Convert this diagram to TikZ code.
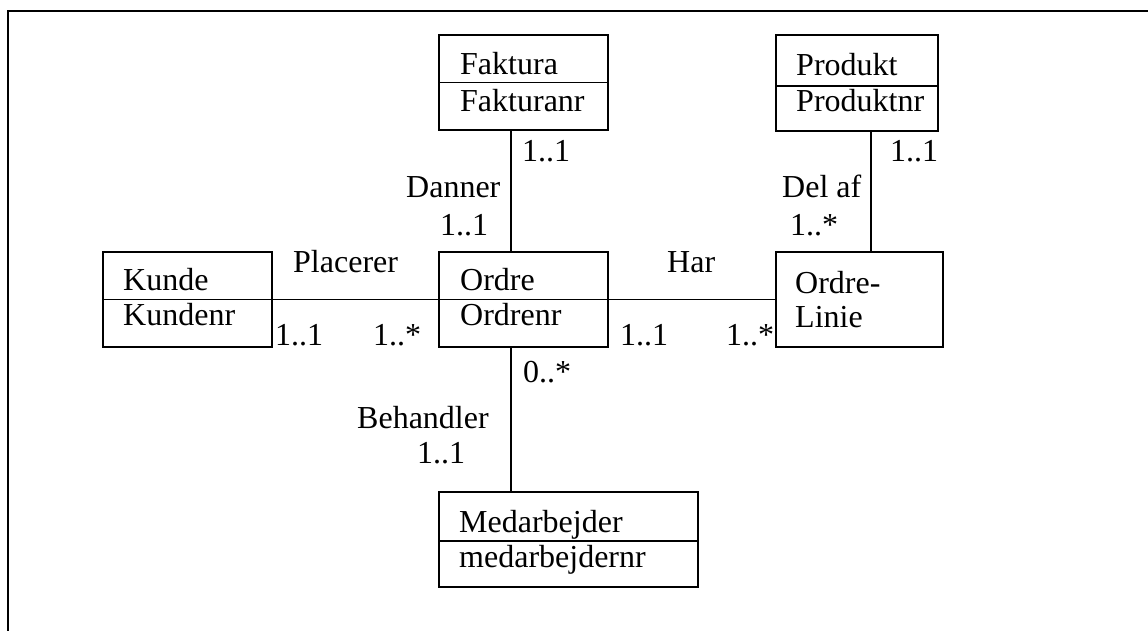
\documentclass[tikz,border=0pt]{standalone}
\usepackage{fontspec}
\setmainfont{Liberation Serif}
\usetikzlibrary{calc}
\begin{document}
\begin{tikzpicture}[x=1pt,y=-1pt,
  entity/.style={draw, line width=1.8pt, rectangle, inner sep=0pt},
  divider/.style={line width=1.8pt},
  link/.style={line width=1.8pt},
  txt/.style={anchor=base west, inner sep=0pt, font=\fontsize{32}{37}\selectfont}]
\useasboundingbox (0,0) rectangle (1148,631);

% outer frame (top and left edges)
\draw[line width=2.8pt] (1160,11) -- (8,11) -- (8,645);

% entity boxes
\node[entity, minimum width=169pt, minimum height=95pt] (faktura) at (523.5,82.5) {};
\node[entity, minimum width=162pt, minimum height=96pt] (produkt) at (857,83) {};
\node[entity, minimum width=169pt, minimum height=95pt] (kunde) at (187.5,299.5) {};
\node[entity, minimum width=169pt, minimum height=95pt] (ordre) at (523.5,299.5) {};
\node[entity, minimum width=167pt, minimum height=95pt] (linie) at (859.5,299.5) {};
\node[entity, minimum width=259pt, minimum height=95pt] (medarb) at (568.5,539.5) {};

% compartment dividers
\draw[divider] (faktura.west) -- (faktura.east);
\draw[divider] ($(produkt.north west)+(0,52)$) -- ($(produkt.north east)+(0,52)$);
\draw[divider] (kunde.west) -- (kunde.east);
\draw[divider] (ordre.west) -- (ordre.east);
\draw[divider] ($(medarb.north west)+(0,50)$) -- ($(medarb.north east)+(0,50)$);

% entity names and keys
\node[txt] (tFak)  at (460,75)  {Faktura};
\node[txt] (tFakK) at (460,112) {Fakturanr};
\node[txt] (tPro)  at (796,76)  {Produkt};
\node[txt] (tProK) at (796,112) {Produktnr};
\node[txt] (tKun)  at (123,290) {Kunde};
\node[txt] (tKunK) at (123,325) {Kundenr};
\node[txt] (tOrd)  at (460,290) {Ordre};
\node[txt] (tOrdK) at (460,325) {Ordrenr};
\node[txt] (tLin1) at (795,293) {Ordre-};
\node[txt] (tLin2) at (795,327) {Linie};
\node[txt] (tMed)  at (459,532) {Medarbejder};
\node[txt] (tMedK) at (459,567) {medarbejdernr};

% relationships
\draw[link] ($(faktura.south west)+(73,0)$) -- ($(ordre.north west)+(73,0)$);
\draw[link] ($(produkt.south west)+(96,0)$) -- ($(linie.north west)+(96,0)$);
\draw[link] (kunde.east) -- (ordre.west);
\draw[link] (ordre.east) -- (linie.west);
\draw[link] ($(ordre.south west)+(73,0)$) -- ($(medarb.north west)+(73,0)$);

% relationship names and multiplicities
\node[txt] (rDan)  at (406,198) {Danner};
\node[txt] (mDa1)  at (440,235) {1..1};
\node[txt] (mDa2)  at (522,162) {1..1};
\node[txt] (rDel)  at (782,198) {Del af};
\node[txt] (mDe1)  at (790,235) {1..*};
\node[txt] (mDe2)  at (890,162) {1..1};
\node[txt] (rPla)  at (293,272) {Placerer};
\node[txt] (mPl1)  at (275,345) {1..1};
\node[txt] (mPl2)  at (373,345) {1..*};
\node[txt] (rHar)  at (667,272) {Har};
\node[txt] (mHa1)  at (620,345) {1..1};
\node[txt] (mHa2)  at (726,345) {1..*};
\node[txt] (mBe1)  at (523,382) {0..*};
\node[txt] (rBeh)  at (357,428) {Behandler};
\node[txt] (mBe2)  at (417,463) {1..1};
\end{tikzpicture}
\end{document}
